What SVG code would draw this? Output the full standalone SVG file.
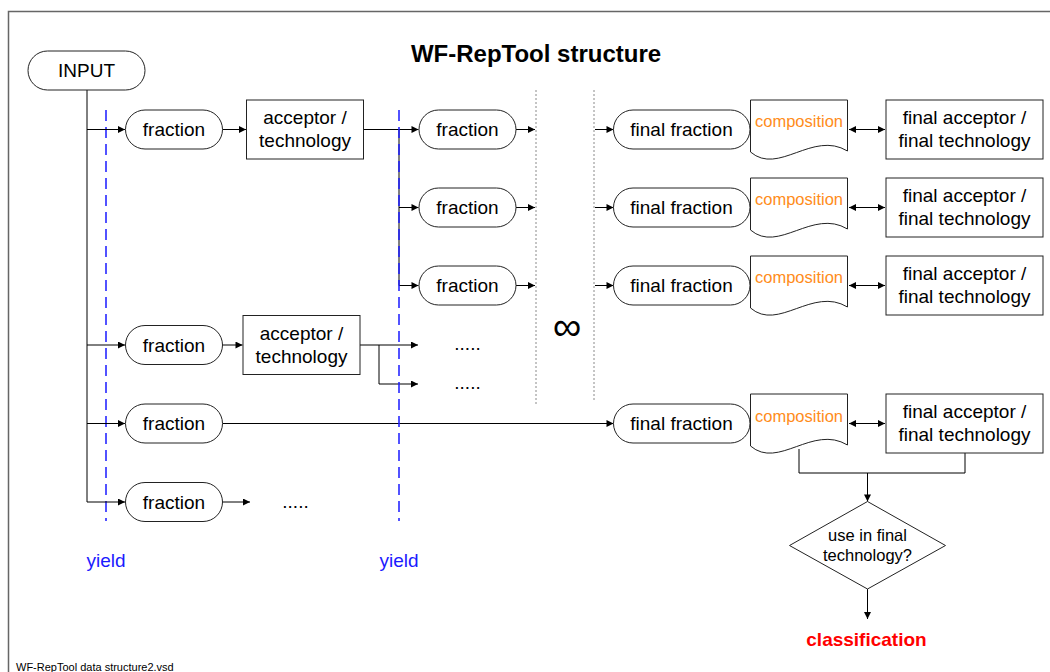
<svg xmlns="http://www.w3.org/2000/svg" width="1050" height="672" viewBox="0 0 1050 672">
  <defs>
    <marker id="arr" viewBox="0 0 10 10" refX="10" refY="5" markerWidth="9" markerHeight="7" markerUnits="userSpaceOnUse" orient="auto-start-reverse">
      <path d="M0,0 L10,5 L0,10 z" fill="#000"/>
    </marker>
    <path id="doc" d="M0,0 H97 V51 C62,30 28,76 0,52 Z"/>
  </defs>
  <style>
    text { font-family: "Liberation Sans", Arial, sans-serif; fill: #000; }
    .lbl { font-size: 19px; text-anchor: middle; }
    .comp { font-size: 16.5px; text-anchor: middle; fill: #ff8c1a; }
    .pill, .box, .shape { fill: #fff; stroke: #222; stroke-width: 1; }
    .wire { fill: none; stroke: #000; stroke-width: 1; }
    .arrow { fill: none; stroke: #000; stroke-width: 1; marker-end: url(#arr); }
    .both { fill: none; stroke: #000; stroke-width: 1; marker-start: url(#arr); marker-end: url(#arr); }
    .yieldline { fill: none; stroke: #1a1aff; stroke-width: 1.5; stroke-dasharray: 11 6; }
    .sep { fill: none; stroke: #8a8a8a; stroke-width: 1; stroke-dasharray: 2 2; }
    .yield { font-size: 19px; fill: #1a1aff; text-anchor: middle; }
  </style>

  <rect width="1050" height="672" fill="#fff"/>
  <!-- page frame -->
  <rect x="8.5" y="11.5" width="1060" height="700" fill="none" stroke="#666" stroke-width="1.5"/>

  <text x="536" y="62" font-size="24" font-weight="bold" text-anchor="middle">WF-RepTool structure</text>

  <!-- separators and yield lines -->
  <line class="yieldline" x1="106" y1="110" x2="106" y2="521"/>
  <line class="sep" x1="536" y1="90" x2="536" y2="404"/>
  <line class="sep" x1="594" y1="90" x2="594" y2="400"/>
  <text x="567" y="340" font-size="40" text-anchor="middle" font-family="DejaVu Sans, sans-serif">∞</text>

  <!-- connectors -->
  <g id="connectors">
    <line class="wire" x1="87" y1="90" x2="87" y2="502"/>
    <line class="arrow" x1="87" y1="129.5" x2="125" y2="129.5"/>
    <line class="arrow" x1="87" y1="345" x2="125" y2="345"/>
    <line class="arrow" x1="87" y1="423.5" x2="125" y2="423.5"/>
    <line class="arrow" x1="87" y1="502" x2="125" y2="502"/>

    <line class="arrow" x1="222.5" y1="129.5" x2="246" y2="129.5"/>
    <polyline class="wire" points="363,129.5 399,129.5 399,285.5"/>
    <line class="arrow" x1="399" y1="129.5" x2="418.5" y2="129.5"/>
    <line class="arrow" x1="399" y1="207.5" x2="418.5" y2="207.5"/>
    <line class="arrow" x1="399" y1="285.5" x2="418.5" y2="285.5"/>

    <line class="arrow" x1="516" y1="129.5" x2="535" y2="129.5"/>
    <line class="arrow" x1="516" y1="207.5" x2="535" y2="207.5"/>
    <line class="arrow" x1="516" y1="285.5" x2="535" y2="285.5"/>

    <line class="arrow" x1="595" y1="129.5" x2="613.5" y2="129.5"/>
    <line class="arrow" x1="595" y1="207.5" x2="613.5" y2="207.5"/>
    <line class="arrow" x1="595" y1="285.5" x2="613.5" y2="285.5"/>

    <line class="arrow" x1="222.5" y1="345" x2="242.5" y2="345"/>
    <line class="arrow" x1="360" y1="345" x2="418" y2="345"/>
    <polyline class="arrow" points="379,345 379,384 418,384"/>

    <line class="arrow" x1="222.5" y1="423.5" x2="613.5" y2="423.5"/>
    <line class="arrow" x1="222.5" y1="502" x2="250" y2="502"/>

    <line class="both" x1="849" y1="129.5" x2="885" y2="129.5"/>
    <line class="both" x1="849" y1="207.5" x2="885" y2="207.5"/>
    <line class="both" x1="849" y1="285.5" x2="885" y2="285.5"/>
    <line class="both" x1="849" y1="423.5" x2="885" y2="423.5"/>

    <polyline class="wire" points="799,449 799,473 965,473 965,453"/>
    <line class="arrow" x1="867.5" y1="473" x2="867.5" y2="501.5"/>
    <line class="arrow" x1="867.5" y1="589" x2="867.5" y2="619"/>
  </g>

  <line class="yieldline" x1="399" y1="110" x2="399" y2="521"/>

  <!-- input -->
  <g id="input">
    <rect class="pill" x="28" y="51" width="117" height="39" rx="19.5"/>
    <text class="lbl" x="86.5" y="77">INPUT</text>
  </g>

  <!-- first level fractions -->
  <g id="fraction-a">
    <rect class="pill" x="125.5" y="110" width="97" height="39" rx="19.5"/>
    <text class="lbl" x="174" y="136">fraction</text>
  </g>
  <g id="fraction-b">
    <rect class="pill" x="125.5" y="325.5" width="97" height="39" rx="19.5"/>
    <text class="lbl" x="174" y="351.5">fraction</text>
  </g>
  <g id="fraction-c">
    <rect class="pill" x="125.5" y="404" width="97" height="39" rx="19.5"/>
    <text class="lbl" x="174" y="430">fraction</text>
  </g>
  <g id="fraction-d">
    <rect class="pill" x="125.5" y="482.5" width="97" height="39" rx="19.5"/>
    <text class="lbl" x="174" y="508.5">fraction</text>
  </g>

  <!-- acceptor / technology -->
  <g id="acceptor-a">
    <rect class="box" x="246.5" y="100" width="117" height="59"/>
    <text class="lbl" x="305" y="124">acceptor /</text>
    <text class="lbl" x="305" y="147">technology</text>
  </g>
  <g id="acceptor-b">
    <rect class="box" x="243" y="315.5" width="117" height="59"/>
    <text class="lbl" x="301.5" y="340">acceptor /</text>
    <text class="lbl" x="301.5" y="363">technology</text>
  </g>

  <!-- second level fractions -->
  <g id="fraction-a1">
    <rect class="pill" x="419" y="110" width="97" height="39" rx="19.5"/>
    <text class="lbl" x="467.5" y="136">fraction</text>
  </g>
  <g id="fraction-a2">
    <rect class="pill" x="419" y="188" width="97" height="39" rx="19.5"/>
    <text class="lbl" x="467.5" y="214">fraction</text>
  </g>
  <g id="fraction-a3">
    <rect class="pill" x="419" y="266" width="97" height="39" rx="19.5"/>
    <text class="lbl" x="467.5" y="292">fraction</text>
  </g>

  <text class="lbl" x="467.5" y="350">.....</text>
  <text class="lbl" x="467.5" y="389">.....</text>
  <text class="lbl" x="295.5" y="508">.....</text>

  <!-- final fractions -->
  <g id="final-1">
    <rect class="pill" x="613.5" y="110" width="136.5" height="39" rx="19.5"/>
    <text class="lbl" x="681.5" y="136">final fraction</text>
  </g>
  <g id="final-2">
    <rect class="pill" x="613.5" y="188" width="136.5" height="39" rx="19.5"/>
    <text class="lbl" x="681.5" y="214">final fraction</text>
  </g>
  <g id="final-3">
    <rect class="pill" x="613.5" y="266" width="136.5" height="39" rx="19.5"/>
    <text class="lbl" x="681.5" y="292">final fraction</text>
  </g>
  <g id="final-4">
    <rect class="pill" x="613.5" y="404" width="136.5" height="39" rx="19.5"/>
    <text class="lbl" x="681.5" y="430">final fraction</text>
  </g>

  <!-- composition documents -->
  <g id="composition-1">
    <use href="#doc" class="shape" transform="translate(750.5,100)"/>
    <text class="comp" x="799" y="127">composition</text>
  </g>
  <g id="composition-2">
    <use href="#doc" class="shape" transform="translate(750.5,178)"/>
    <text class="comp" x="799" y="205">composition</text>
  </g>
  <g id="composition-3">
    <use href="#doc" class="shape" transform="translate(750.5,256)"/>
    <text class="comp" x="799" y="283">composition</text>
  </g>
  <g id="composition-4">
    <use href="#doc" class="shape" transform="translate(750.5,394)"/>
    <text class="comp" x="799" y="421.5">composition</text>
  </g>

  <!-- final acceptor / final technology -->
  <g id="final-acceptor-1">
    <rect class="box" x="886" y="100" width="157" height="59"/>
    <text class="lbl" x="964.5" y="124">final acceptor /</text>
    <text class="lbl" x="964.5" y="147">final technology</text>
  </g>
  <g id="final-acceptor-2">
    <rect class="box" x="886" y="178" width="157" height="59"/>
    <text class="lbl" x="964.5" y="202">final acceptor /</text>
    <text class="lbl" x="964.5" y="225">final technology</text>
  </g>
  <g id="final-acceptor-3">
    <rect class="box" x="886" y="256" width="157" height="59"/>
    <text class="lbl" x="964.5" y="280">final acceptor /</text>
    <text class="lbl" x="964.5" y="303">final technology</text>
  </g>
  <g id="final-acceptor-4">
    <rect class="box" x="886" y="394" width="157" height="59"/>
    <text class="lbl" x="964.5" y="418">final acceptor /</text>
    <text class="lbl" x="964.5" y="441">final technology</text>
  </g>

  <!-- decision -->
  <g id="decision">
    <polygon class="shape" points="867.5,501.5 945.5,545.5 867.5,589 789.5,545.5"/>
    <text x="867.5" y="540.5" font-size="16.5" text-anchor="middle">use in final</text>
    <text x="867.5" y="560.5" font-size="16.5" text-anchor="middle">technology?</text>
  </g>

  <text x="866.5" y="646" font-size="19" font-weight="bold" text-anchor="middle" style="fill:#ff0000">classification</text>

  <text class="yield" x="106" y="567">yield</text>
  <text class="yield" x="399" y="567">yield</text>

  <text x="16" y="670.5" font-size="11">WF-RepTool data structure2.vsd</text>
</svg>
